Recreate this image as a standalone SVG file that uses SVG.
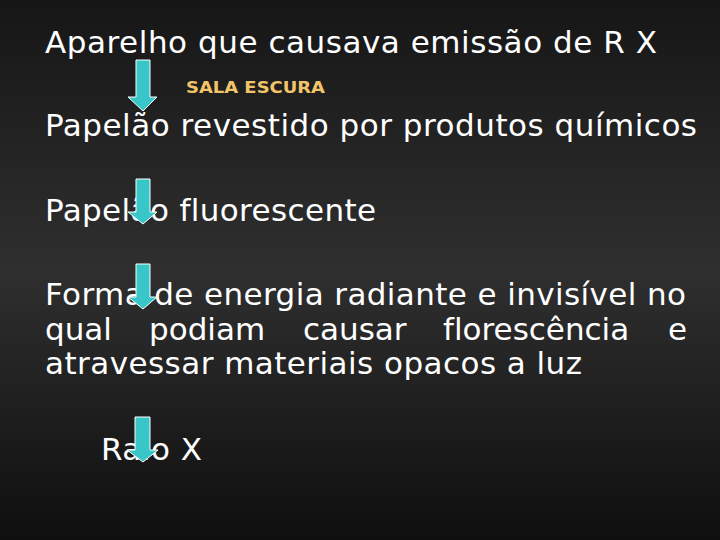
<svg xmlns="http://www.w3.org/2000/svg" width="720" height="540" viewBox="0 0 720 540">
<defs>
<linearGradient id="bg" x1="0" y1="0" x2="0" y2="1">
<stop offset="0" stop-color="#161616"/>
<stop offset="0.5" stop-color="#2f2f2f"/>
<stop offset="1" stop-color="#0f0f0f"/>
</linearGradient>
<style>
.t{font-family:"DejaVu Sans","Verdana",sans-serif;font-size:31px;fill:#ffffff;font-variant-ligatures:none}
.s{font-family:"DejaVu Sans","Verdana",sans-serif;font-size:16px;font-weight:bold;fill:#f2c46a}
.arr{fill:#38c6c8;stroke:#ffffff;stroke-width:1}
</style>
</defs>
<rect width="720" height="540" fill="url(#bg)"/>
<g id="n1"><text class="t" x="45" y="53" textLength="612" lengthAdjust="spacing">Aparelho que causava emissão de R X</text></g>
<g id="label"><text class="s" x="186" y="93" textLength="139" lengthAdjust="spacingAndGlyphs">SALA ESCURA</text></g>
<g id="n2"><text class="t" x="45" y="136" textLength="652" lengthAdjust="spacing">Papelão revestido por produtos químicos</text></g>
<g id="n3"><text class="t" x="45" y="221" textLength="331" lengthAdjust="spacing">Papelão fluorescente</text></g>
<g id="n4">
<text class="t" x="45" y="305" textLength="641" lengthAdjust="spacing">Forma de energia radiante e invisível no</text>
<text class="t" y="340"><tspan x="45">qual</tspan><tspan x="149">podiam</tspan><tspan x="303">causar</tspan><tspan x="443">florescência</tspan><tspan x="668">e</tspan></text>
<text class="t" x="45" y="374" textLength="537" lengthAdjust="spacing">atravessar materiais opacos a luz</text>
</g>
<g id="n5"><text class="t" x="101" y="460" textLength="101" lengthAdjust="spacing">Raio X</text></g>
<g id="connectors">
<path class="arr" d="M136,60 H150 V97 H157 L143,111 L128,97 H136 Z"/>
<path class="arr" d="M136,179 H150 V212 H157 L143,224 L128,212 H136 Z"/>
<path class="arr" d="M136,264 H150 V297 H157 L143,309 L128,297 H136 Z"/>
<path class="arr" d="M135,417 H150 V450 H158 L143,462 L127,450 H135 Z"/>
</g>
</svg>
